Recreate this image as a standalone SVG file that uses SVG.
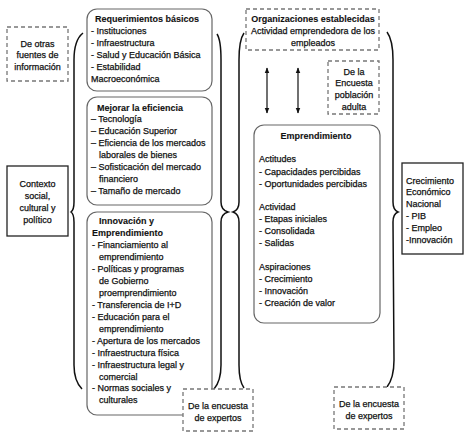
<svg xmlns="http://www.w3.org/2000/svg" width="472" height="440" viewBox="0 0 472 440">
<defs>
<marker id="ah" viewBox="0 0 10 10" refX="9" refY="5" markerWidth="6" markerHeight="6" orient="auto-start-reverse" markerUnits="userSpaceOnUse">
<path d="M0,1 L10,5 L0,9 z" fill="#111"/>
</marker>
<style>
text{font-family:"Liberation Sans",Arial,sans-serif;font-size:9px;fill:#111;stroke:#111;stroke-width:0.25}
.b{font-weight:bold;stroke-width:0.1}
.c{text-anchor:middle}
.rb{fill:#fff;stroke:#666;stroke-width:1.2}
.db{fill:#fff;stroke:#777;stroke-width:1.3;stroke-dasharray:4 3}
.sb{fill:#fff;stroke:#222;stroke-width:1.3}
.br{fill:none;stroke:#111;stroke-width:1.5}
</style>
</defs>
<rect width="472" height="440" fill="#fff"/>

<g id="connectors">
<path class="br" d="M83,33 Q74,40 74,60 L74,202 Q74,210 71,212 Q74,214 74,222 L74,365 Q74,381 82,389"/>
<path class="br" d="M217,34 Q221,40 221,60 L221,202 Q221,210 228,212 Q221,214 221,222 L221,365 Q221,381 214,389"/>
<path class="br" d="M244,33 Q239,40 239,60 L239,202 Q239,210 233,212 Q239,214 239,222 L239,365 Q239,381 244,388"/>
<path class="br" d="M387,32 Q393,40 393,60 L393,202 Q393,210 398,212 Q393,214 393,222 L394,360 Q394,378 387,387"/>
<line x1="267" y1="68" x2="267" y2="113" stroke="#111" stroke-width="1.2" marker-start="url(#ah)" marker-end="url(#ah)"/>
<line x1="298" y1="68" x2="298" y2="113" stroke="#111" stroke-width="1.2" marker-start="url(#ah)" marker-end="url(#ah)"/>
</g>

<g id="otras-fuentes">
<rect class="db" x="7" y="27" width="61" height="54"/>
<text class="c" x="37.5" y="47">De otras</text>
<text class="c" x="37.5" y="58">fuentes de</text>
<text class="c" x="37.5" y="70">información</text>
</g>

<g id="contexto">
<rect class="sb" x="7" y="166" width="61" height="70"/>
<text class="c" x="37.5" y="187">Contexto</text>
<text class="c" x="37.5" y="199">social,</text>
<text class="c" x="37.5" y="211">cultural y</text>
<text class="c" x="37.5" y="223">político</text>
</g>

<g id="requerimientos">
<rect class="rb" x="87" y="9" width="125" height="82" rx="10"/>
<text class="b c" x="147" y="22">Requerimientos básicos</text>
<text x="91" y="34">- Instituciones</text>
<text x="91" y="46">- Infraestructura</text>
<text x="91" y="58">- Salud y Educación Básica</text>
<text x="91" y="70">- Estabilidad</text>
<text x="91" y="82">Macroeconómica</text>
</g>

<g id="eficiencia">
<rect class="rb" x="87" y="97" width="125" height="108" rx="10"/>
<text class="b c" x="140" y="111">Mejorar la eficiencia</text>
<text x="91" y="122">– Tecnología</text>
<text x="91" y="134">– Educación Superior</text>
<text x="91" y="146">– Eficiencia de los mercados</text>
<text x="99" y="158">laborales de bienes</text>
<text x="91" y="170">– Sofisticación del mercado</text>
<text x="99" y="182">financiero</text>
<text x="91" y="194">– Tamaño de mercado</text>
</g>

<g id="innovacion">
<rect class="rb" x="87" y="212" width="125" height="203" rx="10"/>
<text class="b" x="99" y="224">Innovación y</text>
<text class="b" x="92" y="236">Emprendimiento</text>
<text x="92" y="248">-  Financiamiento al</text>
<text x="99" y="260">emprendimiento</text>
<text x="92" y="272">-  Políticas y programas</text>
<text x="99" y="284">de Gobierno</text>
<text x="99" y="296">proemprendimiento</text>
<text x="92" y="308">-  Transferencia de I+D</text>
<text x="92" y="320">-  Educación para el</text>
<text x="99" y="332">emprendimiento</text>
<text x="92" y="344">-  Apertura de los mercados</text>
<text x="92" y="356">-  Infraestructura física</text>
<text x="92" y="368">-  Infraestructura legal y</text>
<text x="99" y="380">comercial</text>
<text x="92" y="391">-  Normas sociales y</text>
<text x="99" y="403">culturales</text>
</g>

<g id="expertos-izq">
<rect class="db" x="183" y="389" width="70" height="42"/>
<text class="c" x="218" y="409">De la encuesta</text>
<text class="c" x="218" y="421">de expertos</text>
</g>

<g id="organizaciones">
<rect class="db" x="246" y="9" width="133" height="41"/>
<text class="b c" x="313" y="22">Organizaciones establecidas</text>
<text class="c" x="313" y="34">Actividad emprendedora de los</text>
<text class="c" x="313" y="46">empleados</text>
</g>

<g id="poblacion-adulta">
<rect class="db" x="328" y="61" width="51" height="53"/>
<text class="c" x="354" y="75">De la</text>
<text class="c" x="354" y="86">Encuesta</text>
<text class="c" x="354" y="98">población</text>
<text class="c" x="354" y="110">adulta</text>
</g>

<g id="emprendimiento">
<rect class="rb" x="254" y="125" width="126" height="198" rx="10"/>
<text class="b c" x="316" y="139">Emprendimiento</text>
<text x="259" y="162">Actitudes</text>
<text x="259" y="175">- Capacidades percibidas</text>
<text x="259" y="187">- Oportunidades percibidas</text>
<text x="259" y="210">Actividad</text>
<text x="259" y="222">- Etapas iniciales</text>
<text x="259" y="234">- Consolidada</text>
<text x="259" y="246">- Salidas</text>
<text x="259" y="270">Aspiraciones</text>
<text x="259" y="282">- Crecimiento</text>
<text x="259" y="294">- Innovación</text>
<text x="259" y="306">- Creación de valor</text>
</g>

<g id="crecimiento">
<rect class="sb" x="402" y="163" width="61" height="91"/>
<text x="406" y="184">Crecimiento</text>
<text x="406" y="195">Económico</text>
<text x="406" y="207">Nacional</text>
<text x="406" y="219">- PIB</text>
<text x="406" y="231">- Empleo</text>
<text x="406" y="243">-Innovación</text>
</g>

<g id="expertos-der">
<rect class="db" x="334" y="387" width="70" height="42"/>
<text class="c" x="369" y="407">De la encuesta</text>
<text class="c" x="369" y="419">de expertos</text>
</g>
</svg>
